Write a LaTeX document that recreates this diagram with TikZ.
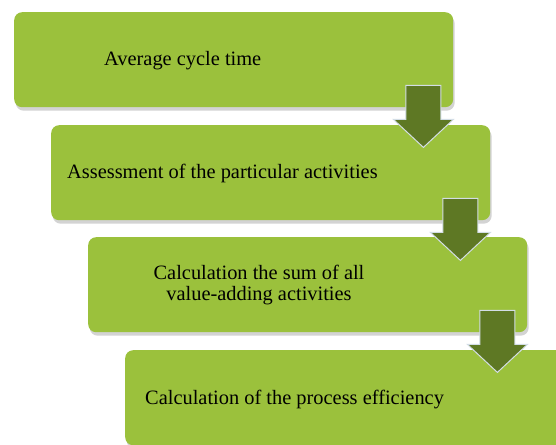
\documentclass[tikz,border=0pt]{standalone}
\usepackage{fontspec}
\setmainfont{Liberation Serif}
\usetikzlibrary{shadows,calc}
\definecolor{boxgreen}{HTML}{9BC13C}
\definecolor{arrowgreen}{HTML}{5E7824}
\definecolor{arrowedge}{HTML}{D3DDE6}
\tikzset{
  stepbox/.style={fill=boxgreen, draw=none, rounded corners=8pt, anchor=north west,
    minimum width=439pt, minimum height=95pt, inner sep=0pt,
    drop shadow={opacity=0.35, shadow xshift=1.5pt, shadow yshift=-3.5pt}},
  label/.style={font=\fontsize{20.4}{21.5}\selectfont, text=black, inner sep=0pt},
  blockarrow/.style={fill=arrowgreen, draw=arrowedge, line width=1pt, line join=miter}
}
\newcommand{\downarrowblock}[2]{%
  \draw[blockarrow] ($(#1.south east)+(-47.5,-22)$) -- ++(0,34) -- ++(-12.5,0)
     -- ++(30,28) -- ++(30,-28) -- ++(-12.5,0) -- ++(0,-34) -- cycle;
}
\begin{document}
\begin{tikzpicture}[x=1pt,y=-1pt]
\useasboundingbox (0,0) rectangle (556,444);
\node[stepbox] (b1) at (14,12) {};
\node[stepbox] (b2) at (51,125) {};
\node[stepbox] (b3) at (88,237) {};
\node[stepbox] (b4) at (125,350) {};
\node[label, anchor=west] (t1) at (104,61) {Average cycle time};
\node[label, anchor=west] (t2) at (67,173) {Assessment of the particular activities};
\node[label, align=center] (t3) at (259,285) {Calculation the sum of all\\value-adding activities};
\node[label, anchor=west] (t4) at (145,400) {Calculation of the process efficiency};
\downarrowblock{b1}{b2}
\downarrowblock{b2}{b3}
\downarrowblock{b3}{b4}
\end{tikzpicture}
\end{document}
